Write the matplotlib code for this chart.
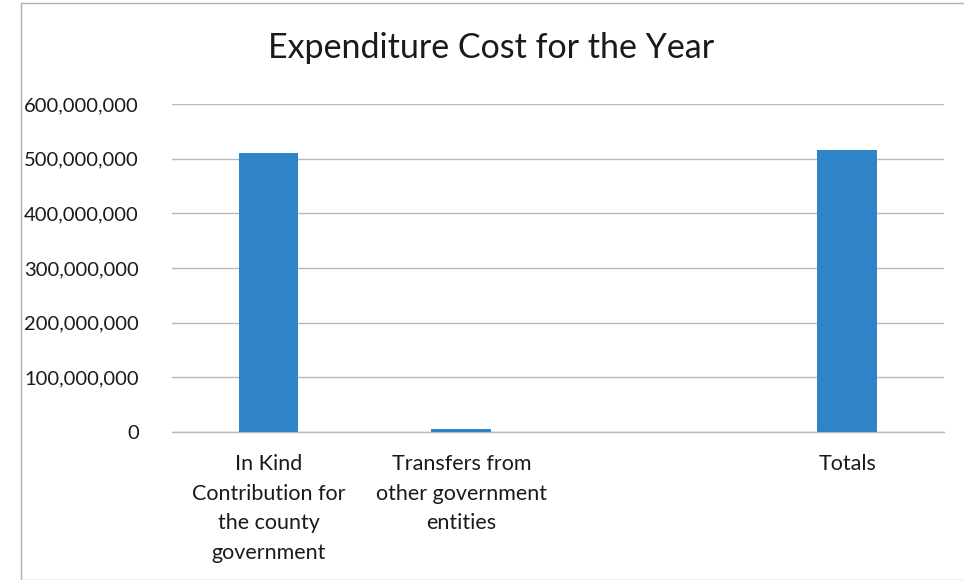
import matplotlib
matplotlib.use("Agg")
import matplotlib.pyplot as plt
from matplotlib.ticker import FuncFormatter
from matplotlib.patches import Rectangle

categories = ["In Kind\nContribution for\nthe county\ngovernment",
              "Transfers from\nother government\nentities",
              "",
              "Totals"]
values = [510_000_000, 5_000_000, 0, 515_000_000]
yticks = [0, 100_000_000, 200_000_000, 300_000_000, 400_000_000, 500_000_000, 600_000_000]

plt.rcParams['font.family'] = ['Lato', 'DejaVu Sans']

fig = plt.figure(figsize=(9.64, 5.8), dpi=100)
ax = fig.add_axes([0.1784, 0.2552, 0.8006, 0.5655])

x = list(range(len(categories)))
ax.bar(x, values, width=0.31, color='#2f84c8', zorder=3)
ax.set_xlim(-0.5, len(categories) - 0.5)
ax.set_ylim(0, 600_000_000)
ax.set_yticks(yticks)
ax.yaxis.set_major_formatter(FuncFormatter(lambda v, p: f"{int(v):,}"))
ax.set_xticks(x)
ax.set_xticklabels(categories, linespacing=1.6, va='top')
ax.tick_params(axis='y', length=0, labelsize=14.5, colors='#1a1a1a', pad=24)
ax.tick_params(axis='x', length=0, labelsize=15.5, colors='#1a1a1a', pad=16)
ax.grid(axis='y', color='#b8b8c4', linewidth=1.0, zorder=0)
for s in ['top', 'right', 'left']:
    ax.spines[s].set_visible(False)
ax.spines['bottom'].set_color('#b8b8c4')
ax.spines['bottom'].set_linewidth(1.0)

fig.text(0.509, 0.917, "Expenditure Cost for the Year", ha='center', va='center',
         fontsize=24.5, color='#1a1a1a')

fig.patches.append(Rectangle((0.022, 0.0), 0.98, 0.995, transform=fig.transFigure,
                             fill=False, edgecolor='#b0b0b0', linewidth=1.0))

fig.savefig("out.png", dpi=100)
